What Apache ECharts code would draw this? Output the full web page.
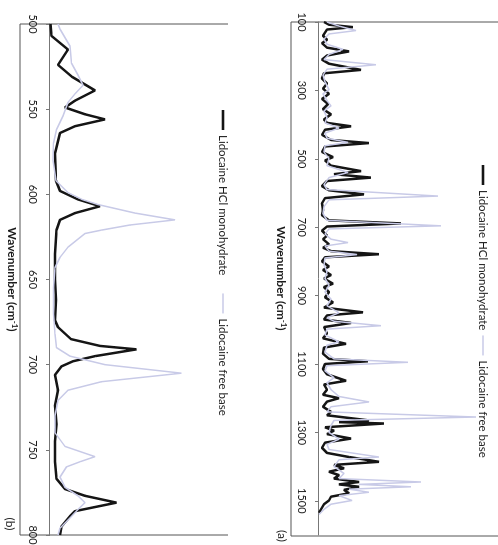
<!DOCTYPE html>
<html>
<head>
<meta charset="utf-8">
<title>Raman spectra</title>
<script src="https://cdn.jsdelivr.net/npm/echarts@6.0.0/dist/echarts.min.js"></script>
<style>
  html, body { margin: 0; padding: 0; background: #fff; }
  #page { position: relative; width: 498px; height: 545px; overflow: hidden; background: #fff; }
  /* the scanned figure is turned a quarter clockwise */
  #chart {
    position: absolute; left: 0; top: 0;
    width: 545px; height: 498px;
    transform-origin: 0 0;
    transform: translate(498px, 0) rotate(90deg);
  }
</style>
</head>
<body>
<div id="page"><div id="chart"></div></div>
<script>
// ===== data =====
const seriesNames = ["Lidocaine HCl monohydrate", "Lidocaine free base"];

// (a) 100 - 1600 cm-1
const hclWnA = [100,108,115,122,140,152,162,175,186,198,210,222,240,250,265,280,295,310,325,340,355,370,385,395,405,415,430,445,454,464,480,495,505,520,536,545,555,565,580,592,604,615,630,650,665,680,689,698,710,725,735,750,760,770,779,788,800,815,825,840,850,865,875,890,905,920,935,949,958,970,980,992,1010,1025,1041,1052,1070,1085,1092,1100,1115,1130,1149,1160,1175,1190,1200,1210,1225,1240,1250,1265,1270,1274,1285,1295,1305,1318,1330,1345,1360,1372,1386,1395,1405,1415,1425,1435,1445,1452,1459,1468,1478,1488,1499,1510,1520,1535];
const hclIntA = [5,10,34,8,4,8,3,8,30,8,3,10,42,5,3,8,4,10,3,9,4,12,5,8,32,6,3,12,50,6,3,14,6,12,42,15,52,8,3,10,45,6,3,4,3,10,82,8,3,8,4,10,4,12,60,6,3,10,4,12,5,14,5,10,6,14,5,44,8,5,32,5,8,4,27,5,4,10,49,6,4,8,27,5,8,4,20,8,4,12,8,50,20,65,6,15,8,32,6,3,8,30,60,15,25,10,20,15,40,20,40,25,30,12,10,5,3,0];
const baseWnA = [100,112,125,135,150,165,180,195,210,225,238,255,275,298,310,330,345,360,380,395,410,425,440,452,462,480,500,520,540,555,575,590,609,620,640,660,680,696,705,720,735,745,755,770,780,790,810,830,850,870,890,910,930,950,965,975,988,998,1015,1035,1045,1065,1085,1095,1105,1120,1140,1155,1175,1195,1211,1225,1240,1255,1265,1280,1300,1320,1335,1350,1372,1380,1400,1420,1435,1445,1452,1459,1466,1475,1485,1499,1510,1525,1540];
const baseIntA = [8,20,37,10,5,8,24,10,5,57,8,4,6,10,4,8,12,5,8,6,20,6,8,29,6,5,10,8,29,10,5,8,119,10,5,4,8,122,10,6,12,29,6,10,38,6,5,8,6,10,6,12,8,20,8,15,62,8,6,20,8,6,15,89,8,6,15,8,12,20,50,12,8,157,15,12,10,20,8,10,60,20,15,25,20,102,40,92,30,50,20,33,12,5,0];

// (b) 500 - 800 cm-1
const hclWnB = [500,507,515,524,531,539,545,549,553,556,560,564,576,592,598,603,607,611,615,621,635,650,662,674,678,685,689,691,695,698,701,706,715,724,735,745,757,767,773,777,781,786,789,795,800];
const hclIntB = [0.5,1.5,18,8,22,45,25,15,35,55,25,10,5,6,10,28,50,25,10,6.5,5,5,6,5,8,21,50,86.5,45,23,11.5,5,8,5,6.5,5,5,6.5,15,35,66.5,25,20,11.5,10];
const baseWnB = [500,503,513,523,530,536,541,546,554,562,570,580,592,599,603,606,611,615,618,621,623,631,637,643,655,670,682,690,695,700,705,710,715,721,730,740,748,751,754,757,760,766,772,777,781,785,790,796,800];
const baseIntB = [8,10,20,21.5,28,33,25,18,13,6.5,3.5,3,6,18,32,48,85,125,80,51.5,35,18,10,5,3.5,3.5,5,6.5,20,55,131.5,51.5,18,8,5,5,15,30,45,30,16.5,10,15,28,35,28,20,10,8];

// axis ranges and tick steps
const rangeA = [100, 1600], stepA = 200;
const rangeB = [500, 800], stepB = 50;
const intensityMax = 160;

const pairs = (wn, val) => wn.map((w, i) => [w, val[i]]);

const FONT = "Lato, 'Noto Sans', sans-serif";
const TEXT = "#1c1c1c";
const DARK = "#151515";
const LIGHT = "#c8cae7";

const wnAxis = (gridIndex, range, step, showMax) => ({
  gridIndex,
  type: "value",
  min: range[0],
  max: range[1],
  interval: step,
  name: "Wavenumber (cm{sup|-1})",
  nameLocation: "middle",
  nameGap: 31,
  nameTextStyle: {
    fontFamily: FONT,
    fontSize: 12,
    fontWeight: "bold",
    color: TEXT,
    lineHeight: 14,
    rich: {
      sup: { fontFamily: FONT, fontSize: 8, fontWeight: "bold", color: TEXT, lineHeight: 8, verticalAlign: "top" },
    },
  },
  axisLine: { show: true, onZero: false, lineStyle: { color: "#777", width: 1 } },
  axisTick: { show: true, length: 4, lineStyle: { color: "#777" } },
  axisLabel: {
    fontFamily: FONT,
    fontSize: 11,
    color: TEXT,
    margin: 12,
    showMaxLabel: showMax,
    formatter: (v) => String(v),
  },
  splitLine: { show: false },
});

const intAxis = (gridIndex) => ({
  gridIndex,
  type: "value",
  min: 0,
  max: intensityMax,
  show: false,
});

const lineSeries = (name, data, axisIndex, color, width) => ({
  name,
  type: "line",
  xAxisIndex: axisIndex,
  yAxisIndex: axisIndex,
  data,
  showSymbol: false,
  symbol: "none",
  lineStyle: { color, width },
  itemStyle: { color },
  clip: true,
});

// legend keys are plain strokes, thick black and thin lavender
const legendBox = (left, top, gap) => ({
  left,
  top,
  orient: "horizontal",
  itemWidth: 20,
  itemHeight: 14,
  itemGap: gap,
  padding: 0,
  selectedMode: false,
  symbolKeepAspect: true,
  data: [
    { name: seriesNames[0], icon: "path://M0,0H20V2.6H0Z" },
    { name: seriesNames[1], icon: "path://M0,0H40V3H0Z" },
  ],
  textStyle: { fontFamily: FONT, fontSize: 11.5, color: TEXT },
});

// ===== chart =====
const chart = echarts.init(document.getElementById("chart"), null, { width: 545, height: 498 });

const option = {
  backgroundColor: "#fff",
  animation: false,
  grid: [
    { left: 22, top: 19, width: 513, height: 160, outerBoundsMode: "none" },
    { left: 24, top: 288, width: 511, height: 160, outerBoundsMode: "none" },
  ],
  xAxis: [wnAxis(0, rangeA, stepA, false), wnAxis(1, rangeB, stepB, true)],
  yAxis: [intAxis(0), intAxis(1)],
  legend: [legendBox(165, 9, 5), legendBox(110, 269, 18)],
  series: [
    lineSeries(seriesNames[0], pairs(hclWnA, hclIntA), 0, DARK, 2.5),
    lineSeries(seriesNames[1], pairs(baseWnA, baseIntA), 0, LIGHT, 1.5),
    lineSeries(seriesNames[0], pairs(hclWnB, hclIntB), 1, DARK, 2.5),
    lineSeries(seriesNames[1], pairs(baseWnB, baseIntB), 1, LIGHT, 1.5),
  ],
  // frame lines and panel captions
  graphic: [
    {
      type: "polyline",
      silent: true,
      shape: { points: [[22, 0], [22, 207], [536, 207], [536, 0]] },
      style: { stroke: "#555", lineWidth: 1, fill: null },
    },
    {
      type: "polyline",
      silent: true,
      shape: { points: [[24, 270], [24, 478], [535, 478], [535, 270]] },
      style: { stroke: "#555", lineWidth: 1, fill: null },
    },
    {
      type: "text",
      silent: true,
      x: 536,
      y: 216,
      style: { text: "(a)", font: "12px " + FONT, fill: TEXT, align: "center", verticalAlign: "middle" },
    },
    {
      type: "text",
      silent: true,
      x: 524,
      y: 488,
      style: { text: "(b)", font: "12px " + FONT, fill: TEXT, align: "center", verticalAlign: "middle" },
    },
  ],
};

chart.setOption(option);
</script>
</body>
</html>
